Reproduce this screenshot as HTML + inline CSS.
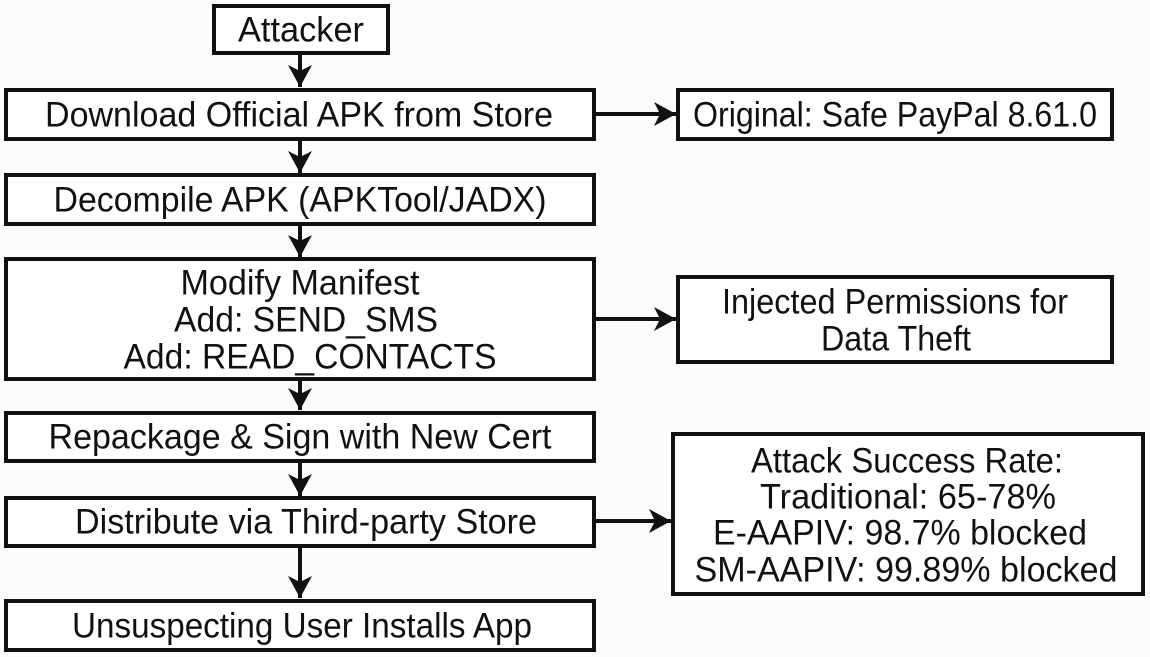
<!DOCTYPE html>
<html><head><meta charset="utf-8"><style>
html,body{margin:0;padding:0;background:#fbfbfb;}
svg{display:block;}
text{font-family:"Liberation Sans",Arial,sans-serif;font-size:35px;fill:#111;text-anchor:middle;dominant-baseline:central;}
rect.b{fill:#fff;stroke:#111;stroke-width:4;}
line{stroke:#111;stroke-width:4;}
</style></head><body>
<svg width="1150" height="657" viewBox="0 0 1150 657">
<defs>
<marker id="b" markerWidth="22" markerHeight="24" refX="22" refY="12" orient="auto" markerUnits="userSpaceOnUse"><path d="M0,0 L22,12 L0,24 L6,12 Z" fill="#111"/></marker></defs>
<line x1="300" y1="54" x2="300" y2="87" marker-end="url(#b)"/>
<line x1="300" y1="139" x2="300" y2="173" marker-end="url(#b)"/>
<line x1="300" y1="224" x2="300" y2="257" marker-end="url(#b)"/>
<line x1="300" y1="380" x2="300" y2="410" marker-end="url(#b)"/>
<line x1="300" y1="462" x2="300" y2="496" marker-end="url(#b)"/>
<line x1="300" y1="546" x2="300" y2="598" marker-end="url(#b)"/>
<line x1="594" y1="114" x2="676" y2="114" marker-end="url(#b)"/>
<line x1="594" y1="319" x2="676" y2="319" marker-end="url(#b)"/>
<line x1="594" y1="521" x2="671" y2="521" marker-end="url(#b)"/>
<rect class="b" x="214" y="6" width="174" height="47"/><text x="301" y="30" textLength="126" lengthAdjust="spacingAndGlyphs">Attacker</text>
<rect class="b" x="6" y="90" width="588" height="49"/><text x="299" y="115" textLength="508" lengthAdjust="spacingAndGlyphs">Download Official APK from Store</text>
<rect class="b" x="678" y="90" width="434" height="49"/><text x="895" y="115" textLength="404" lengthAdjust="spacingAndGlyphs">Original: Safe PayPal 8.61.0</text>
<rect class="b" x="6" y="175" width="588" height="49"/><text x="300" y="200" textLength="493" lengthAdjust="spacingAndGlyphs">Decompile APK (APKTool/JADX)</text>
<rect class="b" x="6" y="259" width="588" height="120"/>
<text x="300" y="283" textLength="239" lengthAdjust="spacingAndGlyphs">Modify Manifest</text>
<text x="306" y="320" textLength="264" lengthAdjust="spacingAndGlyphs">Add: SEND_SMS</text>
<text x="310" y="357" textLength="373" lengthAdjust="spacingAndGlyphs">Add: READ_CONTACTS</text>
<rect class="b" x="678" y="277" width="434" height="85"/>
<text x="895" y="302" textLength="346" lengthAdjust="spacingAndGlyphs">Injected Permissions for</text>
<text x="896" y="339" textLength="150" lengthAdjust="spacingAndGlyphs">Data Theft</text>
<rect class="b" x="6" y="413" width="588" height="48"/><text x="300" y="437" textLength="503" lengthAdjust="spacingAndGlyphs">Repackage &amp; Sign with New Cert</text>
<rect class="b" x="6" y="498" width="588" height="48"/><text x="306" y="522" textLength="462" lengthAdjust="spacingAndGlyphs">Distribute via Third-party Store</text>
<rect class="b" x="673" y="434" width="470" height="160"/>
<text x="907" y="461" textLength="312" lengthAdjust="spacingAndGlyphs">Attack Success Rate:</text>
<text x="908" y="497" textLength="296" lengthAdjust="spacingAndGlyphs">Traditional: 65-78%</text>
<text x="900" y="533" textLength="374" lengthAdjust="spacingAndGlyphs">E-AAPIV: 98.7% blocked</text>
<text x="906" y="570" textLength="423" lengthAdjust="spacingAndGlyphs">SM-AAPIV: 99.89% blocked</text>
<rect class="b" x="6" y="601" width="588" height="49"/><text x="302" y="626" textLength="460" lengthAdjust="spacingAndGlyphs">Unsuspecting User Installs App</text>
</svg>
</body></html>
